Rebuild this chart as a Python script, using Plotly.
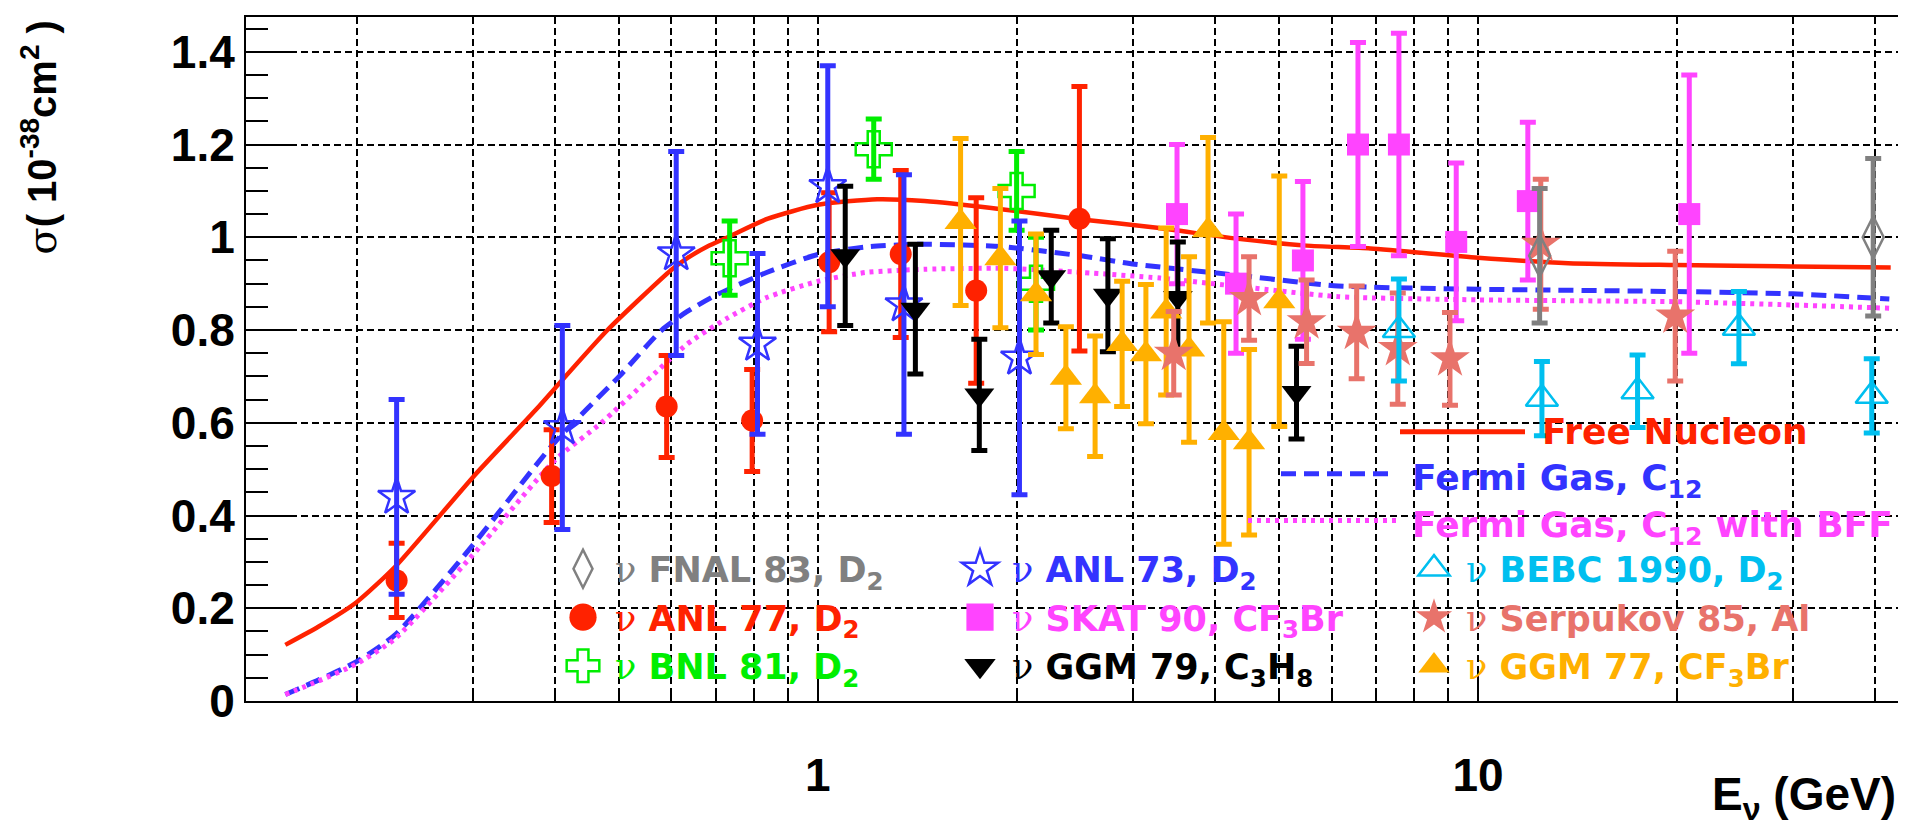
import math
import plotly.graph_objects as go

# ---------------- data ----------------
anl73_x = [0.23, 0.41, 0.61, 0.81, 1.035, 1.35, 2.02]
anl73_y = [0.44, 0.59, 0.965, 0.77, 1.11, 0.855, 0.74]
anl73_e = [0.21, 0.22, 0.22, 0.195, 0.26, 0.28, 0.295]

anl77_x = [0.23, 0.395, 0.59, 0.795, 1.04, 1.335, 1.737, 2.49]
anl77_y = [0.26, 0.485, 0.635, 0.605, 0.946, 0.964, 0.885, 1.04]
anl77_e = [0.08, 0.1, 0.11, 0.11, 0.15, 0.18, 0.2, 0.285]

bnl81_x = [0.735, 1.215, 2.0, 2.14]
bnl81_y = [0.955, 1.19, 1.1, 0.9]
bnl81_e = [0.08, 0.065, 0.085, 0.1]

skat90_x = [3.5, 4.3, 5.43, 6.58, 7.59, 9.27, 11.9, 20.9]
skat90_y = [1.05, 0.9, 0.95, 1.2, 1.2, 0.99, 1.078, 1.05]
skat90_e = [0.15, 0.15, 0.17, 0.22, 0.24, 0.17, 0.17, 0.3]

ggm79_x = [1.10, 1.405, 1.756, 2.257, 2.75, 3.51, 5.31]
ggm79_y = [0.96, 0.845, 0.66, 0.915, 0.875, 0.87, 0.665]
ggm79_e = [0.15, 0.14, 0.12, 0.1, 0.122, 0.12, 0.1]

ggm77_x = [1.645, 1.89, 2.14, 2.375, 2.63, 2.89, 3.14, 3.37, 3.65, 3.9, 4.12, 4.5, 5.0]
ggm77_y = [1.033, 0.955, 0.877, 0.697, 0.657, 0.77, 0.748, 0.84, 0.758, 1.015, 0.578, 0.558, 0.862]
ggm77_e = [0.18, 0.15, 0.13, 0.11, 0.13, 0.135, 0.15, 0.18, 0.2, 0.2, 0.24, 0.2, 0.27]

serp85_x = [3.46, 4.5, 5.5, 6.55, 7.56, 9.07, 12.45, 19.9]
serp85_y = [0.75, 0.868, 0.818, 0.795, 0.76, 0.738, 0.985, 0.83]
serp85_e = [0.09, 0.09, 0.09, 0.1, 0.12, 0.1, 0.14, 0.14]

bebc90_x = [7.59, 12.5, 17.45, 24.85, 39.5]
bebc90_y = [0.8, 0.652, 0.668, 0.805, 0.658]
bebc90_e = [0.11, 0.08, 0.078, 0.078, 0.08]

fnal83_x = [12.4, 39.7]
fnal83_y = [0.96, 1.0]
fnal83_e = [0.145, 0.17]

# model curves
free_x = [0.156, 0.175, 0.2, 0.229, 0.302, 0.375, 0.4, 0.48, 0.6, 0.634, 0.68, 0.73, 0.84, 1.0,
          1.23, 1.45, 1.91, 2.49, 3.24, 4.37, 5.5, 6.87, 10, 13.7, 20, 30, 42.2]
free_y = [0.121, 0.16, 0.213, 0.29, 0.487, 0.63, 0.675, 0.80, 0.93, 0.955, 0.98, 1.0, 1.04, 1.07,
          1.082, 1.078, 1.06, 1.039, 1.021, 0.996, 0.982, 0.976, 0.956, 0.944, 0.94, 0.937, 0.935]

fg_x = [0.156, 0.175, 0.2, 0.229, 0.3, 0.4, 0.5, 0.58, 0.634, 0.7, 0.836, 1.0, 1.2, 1.45, 1.9,
        2.5, 3.02, 4.4, 6.14, 10, 20, 30, 42]
fg_y = [0.014, 0.045, 0.085, 0.143, 0.336, 0.559, 0.70, 0.80, 0.84, 0.875, 0.924, 0.963, 0.98,
        0.985, 0.98, 0.96, 0.942, 0.917, 0.895, 0.888, 0.883, 0.878, 0.867]

bff_x = [0.156, 0.175, 0.2, 0.229, 0.3, 0.4, 0.47, 0.55, 0.634, 0.728, 0.836, 1.0, 1.18, 1.45,
         1.91, 2.52, 3.3, 4.4, 6.14, 10, 20, 30, 42]
bff_y = [0.014, 0.043, 0.08, 0.135, 0.315, 0.52, 0.6, 0.69, 0.77, 0.825, 0.87, 0.905, 0.924,
         0.931, 0.933, 0.924, 0.912, 0.893, 0.872, 0.865, 0.861, 0.854, 0.847]

x_major_ticks = [1, 10]
x_major_labels = ["1", "10"]
x_minor_ticks = [0.2, 0.3, 0.4, 0.5, 0.6, 0.7, 0.8, 0.9,
                 2, 3, 4, 5, 6, 7, 8, 9, 20, 30, 40]

# ---------------- layout geometry (pixels) ----------------
W, H = 1906, 823
L, R, T, B = 238, 11, 7, 130
PW = W - L - R
PH = H - T - B


def px(X):
    return (X - L) / PW


def py(Y):
    return (T + PH - Y) / PH


RED = "#ff2200"
BLUE = "#3333ff"
MAG = "#ff44ff"
GREEN = "#00ee00"
CYAN = "#00bfef"
SALMON = "#e8736b"
ORANGE = "#ffb000"
GRAY = "#808080"
BLACK = "#000000"


def label(text, color):
    nu = ("<span style=\"font-family:'DejaVu Serif';font-weight:normal;color:%s\">ν</span>"
          % color)
    return "<span style=\"color:%s\">%s %s</span>" % (color, nu, text)


fig = go.Figure()

# curves
fig.add_trace(go.Scatter(x=free_x, y=free_y, mode="lines", showlegend=False,
                         line=dict(color=RED, width=4.5, shape="spline", smoothing=0.6)))
fig.add_trace(go.Scatter(x=fg_x, y=fg_y, mode="lines", showlegend=False,
                         line=dict(color=BLUE, width=5, dash="15px,8px",
                                   shape="spline", smoothing=0.6)))
fig.add_trace(go.Scatter(x=bff_x, y=bff_y, mode="lines", showlegend=False,
                         line=dict(color=MAG, width=5, dash="4px,5px",
                                   shape="spline", smoothing=0.6)))

series = [
    # name, x, y, err, symbol, color, size, legend, rank, open
    (label("ANL 77, D<sub>2</sub>", RED), anl77_x, anl77_y, anl77_e, "circle", RED, 22, "legend", 2, False),
    (label("BNL 81, D<sub>2</sub>", GREEN), bnl81_x, bnl81_y, bnl81_e, "cross-open", GREEN, 30, "legend", 3, True),
    (label("ANL 73, D<sub>2</sub>", BLUE), anl73_x, anl73_y, anl73_e, "star-open", BLUE, 28, "legend2", 1, True),
    (label("SKAT 90, CF<sub>3</sub>Br", MAG), skat90_x, skat90_y, skat90_e, "square", MAG, 22, "legend2", 2, False),
    (label("GGM 79, C<sub>3</sub>H<sub>8</sub>", BLACK), ggm79_x, ggm79_y, ggm79_e, "triangle-down", BLACK, 26, "legend2", 3, False),
    (label("GGM 77, CF<sub>3</sub>Br", ORANGE), ggm77_x, ggm77_y, ggm77_e, "triangle-up", ORANGE, 28, "legend3", 3, False),
    (label("Serpukov 85, Al", SALMON), serp85_x, serp85_y, serp85_e, "star", SALMON, 30, "legend3", 2, False),
    (label("BEBC 1990, D<sub>2</sub>", CYAN), bebc90_x, bebc90_y, bebc90_e, "triangle-up-open", CYAN, 28, "legend3", 1, True),
    (label("FNAL 83, D<sub>2</sub>", GRAY), fnal83_x, fnal83_y, fnal83_e, "diamond-tall-open", GRAY, 30, "legend", 1, True),
]

for name, xs, ys, es, sym, col, size, leg, rank, is_open in series:
    fig.add_trace(go.Scatter(
        x=xs, y=ys, mode="markers", name=name, legend=leg, legendrank=rank,
        marker=dict(symbol=sym, size=size, color=col,
                    line=dict(width=2.5 if is_open else 0, color=col)),
        error_y=dict(type="data", array=es, color=col, thickness=5, width=8),
    ))

legend_common = dict(bgcolor="rgba(0,0,0,0)", borderwidth=0, xanchor="left", yanchor="top",
                     itemwidth=54, itemsizing="trace", tracegroupgap=0,
                     font=dict(family="DejaVu Sans", size=35, color="black", weight="bold"))

grid = dict(showgrid=True, gridcolor="black", gridwidth=1.5, griddash="7px,4px")

fig.update_layout(
    width=W, height=H, autosize=False,
    margin=dict(l=L, r=R, t=T, b=B, pad=0),
    paper_bgcolor="white", plot_bgcolor="white",
    legend=dict(x=px(543), y=py(531), **legend_common),
    legend2=dict(x=px(940), y=py(531), **legend_common),
    legend3=dict(x=px(1394), y=py(531), **legend_common),
    xaxis=dict(type="log", range=[math.log10(0.136), math.log10(44.05)],
               tickmode="array", tickvals=x_major_ticks, ticktext=x_major_labels,
               ticks="inside", ticklen=28, tickwidth=2, tickcolor="black",
               ticklabelstandoff=33,
               tickfont=dict(family="Liberation Sans", size=46, color="black", weight="bold"),
               showline=True, linecolor="black", linewidth=2, mirror=True, zeroline=False,
               minor=dict(tickmode="array", tickvals=x_minor_ticks, ticks="inside",
                          ticklen=13, tickwidth=2, tickcolor="black", **grid),
               **grid),
    yaxis=dict(range=[0, 1.475], tickmode="linear", tick0=0, dtick=0.2,
               ticks="inside", ticklen=50, tickwidth=2, tickcolor="black",
               ticklabelstandoff=0,
               tickfont=dict(family="Liberation Sans", size=46, color="black", weight="bold"),
               showline=True, linecolor="black", linewidth=2, mirror=True, zeroline=False,
               minor=dict(tick0=0, dtick=0.05, ticks="inside", ticklen=22, tickwidth=2,
                          tickcolor="black", showgrid=False),
               **grid),
)

# axis titles
fig.add_annotation(
    text="<span style=\"font-family:'DejaVu Serif';font-weight:normal\">σ</span>( 10<sup>-38</sup>cm<sup>2</sup> )",
    xref="paper", yref="paper", x=px(32), y=py(128), xanchor="center", yanchor="middle",
    textangle=-90, showarrow=False,
    font=dict(family="Liberation Sans", size=40, color="black", weight="bold"))
fig.add_annotation(
    text="E<sub>ν</sub> (GeV)", xref="paper", yref="paper", x=px(1890), y=py(790),
    xanchor="right", yanchor="middle", showarrow=False,
    font=dict(family="Liberation Sans", size=46, color="black", weight="bold"))

# legend for the model curves
curve_leg = [
    ("Free Nucleon", RED, "solid", 1392, 1517, 423, 1532, 423),
    ("Fermi Gas, C<sub>12</sub>", BLUE, "15px,8px", 1273, 1388, 465, 1402, 472),
    ("Fermi Gas, C<sub>12</sub> with BFF", MAG, "4px,5px", 1240, 1388, 512, 1402, 519),
]
for text, col, dash, x0, x1, yl, xt, yt in curve_leg:
    fig.add_shape(type="line", xref="paper", yref="paper", x0=px(x0), x1=px(x1),
                  y0=py(yl), y1=py(yl), line=dict(color=col, width=5, dash=dash))
    fig.add_annotation(text=text, xref="paper", yref="paper", x=px(xt), y=py(yt),
                       xanchor="left", yanchor="middle", showarrow=False,
                       font=dict(family="DejaVu Sans", size=36, color=col, weight="bold"))

# enlarge the legend key symbols (plotly caps them at 16 px)
grow_js = """
var gd = document.getElementById('{plot_id}');
function growKeys() {
  gd.querySelectorAll('.legendpoints path.scatterpts').forEach(function (p) {
    var t = p.getAttribute('transform') || '';
    if (t.indexOf('scale') < 0) {
      p.setAttribute('transform', t + ' scale(1.7)');
      p.style.vectorEffect = 'non-scaling-stroke';
    }
  });
}
growKeys();
gd.on('plotly_afterplot', growKeys);
"""

fig.write_html("out.html", post_script=grow_js)
